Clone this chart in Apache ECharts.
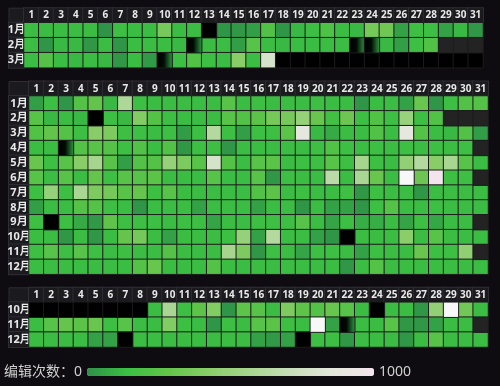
<!DOCTYPE html>
<html><head><meta charset="utf-8">
<script src="https://cdn.jsdelivr.net/npm/echarts@6/dist/echarts.min.js"></script>
<style>html,body{margin:0;padding:0;background:#0e0c11;}#c{width:500px;height:386px;}</style>
</head><body><div id="c"></div>
<script>
// ---- data ----
const days = ['1','2','3','4','5','6','7','8','9','10','11','12','13','14','15','16','17','18','19','20','21','22','23','24','25','26','27','28','29','30','31'];
const monthsA = ['1月','2月','3月'];
const monthsB = ['1月','2月','3月','4月','5月','6月','7月','8月','9月','10月','11月','12月'];
const monthsC = ['10月','11月','12月'];
// codes: -1 = no data (black), -2 = fading cell, null = no such date, >1000 = above scale
const a1 = [130,130,130,130,130,10,140,130,130,360,130,130,-1,15,25,45,220,15,120,140,200,130,120,350,330,50,140,140,50,120,20];
const a2 = [130,15,120,120,20,130,15,130,130,130,120,-2,130,130,45,240,130,120,130,130,130,130,-2,-2,120,45,140,220,null,null,null];
const a3 = [130,230,130,120,130,120,20,130,30,-2,140,220,140,130,420,130,780,-1,-1,-1,-1,-1,-1,-1,-1,-1,-1,-1,-1,-1,-1];
const b1 = [45,140,15,230,280,120,600,140,130,130,130,130,130,240,130,140,130,130,130,140,130,130,15,130,130,50,300,15,140,220,230];
const b2 = [240,120,130,120,-1,140,120,400,230,140,130,130,130,240,220,250,350,360,480,300,160,320,140,220,140,500,140,220,null,null,null];
const b3 = [220,280,230,140,420,380,140,140,130,140,40,140,620,140,45,140,140,250,880,120,80,130,130,220,130,880,230,130,120,220,40];
const b4 = [130,130,-2,230,240,230,140,220,130,220,20,140,140,20,130,130,130,130,130,140,220,140,130,140,130,140,130,140,130,140,null];
const b5 = [300,140,240,420,560,240,45,230,230,480,380,240,780,230,130,240,250,130,140,140,240,140,560,140,130,470,620,420,580,240,130];
const b6 = [240,130,240,130,290,140,240,240,250,130,130,130,240,130,130,240,20,140,130,130,650,130,580,300,130,1200,320,1000,140,140,null];
const b7 = [140,480,140,580,380,350,240,290,140,240,130,130,130,130,130,220,250,130,140,130,130,150,20,140,130,130,20,130,130,130,130];
const b8 = [45,130,130,230,230,140,130,15,130,130,130,50,130,130,130,50,130,130,15,130,50,50,15,140,230,130,130,140,130,130,130];
const b9 = [140,-1,140,80,25,260,140,140,140,130,140,140,60,130,130,140,140,140,240,130,60,140,90,90,130,60,140,70,130,130,null];
const b10 = [130,130,20,130,20,130,290,350,130,50,130,130,130,140,480,50,620,130,130,50,15,-1,130,130,130,430,130,240,130,130,130];
const b11 = [140,240,140,240,140,130,140,130,130,230,130,130,130,560,380,20,140,130,60,140,140,130,50,140,130,130,300,140,140,460,null];
const b12 = [130,130,130,130,130,130,130,230,300,130,130,130,230,130,130,130,130,130,130,130,130,20,130,230,130,130,130,130,130,130,130];
const c10 = [-1,-1,-1,-1,-1,-1,-1,-1,130,580,140,260,400,15,260,240,130,380,260,230,300,240,130,-1,130,130,20,470,1200,340,130];
const c11 = [130,240,290,250,300,140,240,130,130,400,140,130,15,140,130,240,250,140,130,1200,50,-2,130,130,240,20,20,50,130,130,null];
const c12 = [130,130,130,130,50,50,-1,130,130,130,130,130,130,130,130,50,30,50,-1,140,140,20,130,130,130,20,130,240,130,130,130];
const scaleMin = 0, scaleMax = 1000;
const legendText = ['1000', '编辑次数：0'];

// ---- layout ----
const cw = 459 / 31;
const blocks = [
  {months: monthsA, rows: [a1, a2, a3], left: 24, top: 22.7, rowH: 15, labelW: 15},
  {months: monthsB, rows: [b1,b2,b3,b4,b5,b6,b7,b8,b9,b10,b11,b12], left: 29, top: 96, rowH: 14.85, labelW: 20},
  {months: monthsC, rows: [c10, c11, c12], left: 29, top: 302.3, rowH: 14.9, labelW: 20}
];
const hh = 14.5;
const hdrBg = '#1b1a1f', lineC = '#2e2d33';
const fontF = '"Noto Sans", "Noto Sans CJK SC", sans-serif';

const grids = [], xAxes = [], yAxes = [], series = [], mainIdx = [], graphics = [];
const cellBorder = {borderColor: '#1c1c1c', borderWidth: 1};
blocks.forEach((b, bi) => {
  const h = b.rowH * b.months.length;
  grids.push({left: b.left, top: b.top, width: cw * 31, height: h});
  graphics.push({type: 'rect', shape: {x: b.left - b.labelW, y: b.top - hh, width: b.labelW, height: hh},
    style: {fill: hdrBg, stroke: lineC, lineWidth: 1}, z: 0});
  xAxes.push({type: 'category', gridIndex: bi, data: days, position: 'top', boundaryGap: true,
    axisLine: {show: false}, axisTick: {show: false}, splitLine: {show: false},
    axisLabel: {interval: 0, margin: hh / 2, color: '#e8e8e8', fontWeight: 'bold', fontSize: 10, fontFamily: fontF,
      backgroundColor: hdrBg, borderColor: lineC, borderWidth: 1, width: cw, height: hh, lineHeight: hh,
      align: 'center', verticalAlign: 'middle', padding: 0}});
  yAxes.push({type: 'category', gridIndex: bi, data: b.months, inverse: true, boundaryGap: true,
    axisLine: {show: false}, axisTick: {show: false}, splitLine: {show: false},
    axisLabel: {interval: 0, margin: b.labelW / 2, color: '#e8e8e8', fontWeight: 'bold', fontSize: 11, fontFamily: fontF,
      backgroundColor: hdrBg, borderColor: lineC, borderWidth: 1, width: b.labelW, height: b.rowH, lineHeight: b.rowH,
      align: 'center', verticalAlign: 'middle', padding: 0}});
  const main = [], none = [], fade = [], voids = [], over = [];
  b.rows.forEach((row, r) => row.forEach((v, d) => {
    if (v === null) voids.push([d, r, 0]);
    else if (v === -1) none.push([d, r, 0]);
    else if (v === -2) fade.push([d, r, 0]);
    else if (v > scaleMax) over.push([d, r, v]);
    else main.push([d, r, v]);
  }));
  const base = {type: 'heatmap', xAxisIndex: bi, yAxisIndex: bi, silent: true, emphasis: {disabled: true}};
  mainIdx.push(series.length);
  series.push(Object.assign({}, base, {name: 'main' + bi, data: main, itemStyle: Object.assign({}, cellBorder)}));
  series.push(Object.assign({}, base, {name: 'none' + bi, data: none, itemStyle: Object.assign({color: '#000'}, cellBorder)}));
  series.push(Object.assign({}, base, {name: 'void' + bi, data: voids, itemStyle: Object.assign({color: '#232323'}, cellBorder)}));
  series.push(Object.assign({}, base, {name: 'over' + bi, data: over, itemStyle: Object.assign({color: '#f8f8f8'}, cellBorder)}));
  series.push(Object.assign({}, base, {name: 'fade' + bi, data: fade, itemStyle: Object.assign({
    color: new echarts.graphic.LinearGradient(0, 0, 1, 0, [
      {offset: 0, color: '#000'}, {offset: 0.45, color: '#020a04'}, {offset: 1, color: '#2f9e45'}])}, cellBorder)}));
});

const chart = echarts.init(document.getElementById('c'), null, {renderer: 'canvas'});
chart.setOption({
  backgroundColor: '#0e0c11',
  animation: false,
  grid: grids, xAxis: xAxes, yAxis: yAxes,
  visualMap: {
    type: 'continuous', min: scaleMin, max: scaleMax, seriesIndex: mainIdx, calculable: false,
    orient: 'horizontal', left: -11, top: 350, itemWidth: 8, itemHeight: 287, text: legendText, textGap: 5,
    textStyle: {color: '#cfcfcf', fontSize: 14, fontFamily: fontF},
    inRange: {color: ['#2e9048', '#3cc043', '#64c44a', '#8ace6a', '#a8d690', '#c8deba', '#e4e8dc', '#f3e4ee']}
  },
  graphic: graphics,
  series: series
});
</script></body></html>
